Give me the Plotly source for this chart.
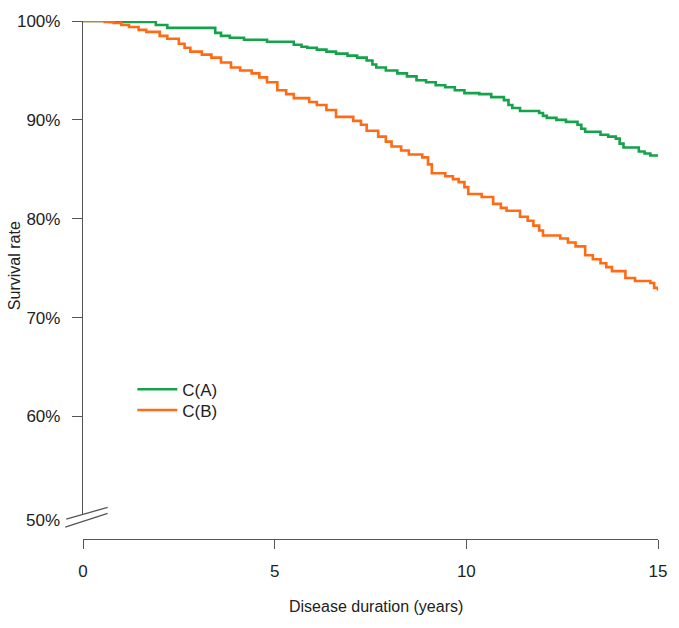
import plotly.graph_objects as go

# ---- data ----
green_t = [0, 0.7, 1.9, 2.2, 3.45, 3.6, 3.83, 4.2, 4.8, 5.5, 5.7, 5.85, 6.1, 6.35, 6.6, 6.9,
           7.15, 7.4, 7.55, 7.65, 7.9, 8.2, 8.45, 8.7, 8.95, 9.2, 9.45, 9.7, 9.95, 10.34,
           10.65, 10.98, 11.1, 11.2, 11.4, 11.9, 12.0, 12.1, 12.35, 12.6, 12.9, 13.0, 13.1,
           13.5, 13.7, 13.9, 14.0, 14.1, 14.5, 14.65, 14.8, 15.0]
green_s = [100, 99.9, 99.6, 99.3, 98.8, 98.5, 98.3, 98.1, 97.9, 97.6, 97.4, 97.3, 97.1, 96.9,
           96.7, 96.5, 96.3, 96.0, 95.6, 95.3, 95.0, 94.7, 94.4, 94.0, 93.8, 93.5, 93.3, 93.0,
           92.7, 92.6, 92.3, 92.0, 91.5, 91.2, 90.9, 90.7, 90.4, 90.2, 90.0, 89.8, 89.5, 89.1,
           88.8, 88.5, 88.3, 88.1, 87.6, 87.2, 86.8, 86.6, 86.4, 86.3]

orange_t = [0, 0.57, 0.8, 1.0, 1.2, 1.45, 1.65, 2.0, 2.2, 2.5, 2.65, 2.8, 3.1, 3.35, 3.6, 3.86,
            4.1, 4.4, 4.6, 4.8, 5.07, 5.3, 5.5, 5.9, 6.1, 6.35, 6.6, 7.05, 7.25, 7.4, 7.7, 7.9,
            8.05, 8.3, 8.5, 8.85, 9.0, 9.1, 9.45, 9.65, 9.8, 9.95, 10.05, 10.4, 10.7, 10.9,
            11.05, 11.4, 11.6, 11.75, 11.9, 12.0, 12.45, 12.65, 12.85, 13.1, 13.3, 13.5, 13.65,
            13.8, 14.15, 14.4, 14.8, 14.9, 15.0]
orange_s = [100, 99.9, 99.8, 99.6, 99.4, 99.1, 98.9, 98.5, 98.2, 97.7, 97.3, 96.9, 96.6, 96.3,
            95.8, 95.3, 95.0, 94.7, 94.3, 93.8, 93.0, 92.6, 92.2, 91.8, 91.5, 91.0, 90.3, 89.9,
            89.5, 88.9, 88.3, 87.8, 87.3, 86.9, 86.5, 86.2, 85.5, 84.6, 84.3, 84.0, 83.7, 83.2,
            82.5, 82.2, 81.5, 81.1, 80.8, 80.2, 79.8, 79.3, 78.8, 78.3, 78.0, 77.6, 77.2, 76.3,
            75.9, 75.5, 75.1, 74.7, 74.0, 73.7, 73.5, 73.0, 72.7]

series_names = ["C(A)", "C(B)"]
x_ticks = [0, 5, 10, 15]
y_ticks = [60, 70, 80, 90, 100]
y_ticklabels = ["60%", "70%", "80%", "90%", "100%"]

GREEN = "#14a34a"
ORANGE = "#ff6a14"
AXIS = "#555555"
TEXT = "#222222"
FONT = "Liberation Sans, Arial, sans-serif"

W, H = 679, 628
L, R, T, B = 83, 13, 15, 89
PW, PH = W - L - R, H - T - B


def px(xp):
    return (xp - L) / PW


def py(yp):
    return (H - B - yp) / PH


fig = go.Figure()
fig.add_trace(go.Scatter(x=green_t, y=green_s, mode="lines", name=series_names[0],
                         line=dict(color=GREEN, width=2.6, shape="hv"), cliponaxis=False,
                         legend="legend"))
fig.add_trace(go.Scatter(x=orange_t, y=orange_s, mode="lines", name=series_names[1],
                         line=dict(color=ORANGE, width=2.6, shape="hv"), cliponaxis=False,
                         legend="legend2"))

shapes = [
    dict(type="line", xref="paper", yref="paper", x0=px(66), y0=py(519), x1=px(108), y1=py(507),
         line=dict(color=AXIS, width=1.3)),
    dict(type="line", xref="paper", yref="paper", x0=px(65), y0=py(527), x1=px(108), y1=py(513),
         line=dict(color=AXIS, width=1.3)),
]

annotations = [
    dict(text="50%", xref="paper", yref="paper", x=px(62), y=py(520), xanchor="right",
         yanchor="middle", showarrow=False, font=dict(size=17, color=TEXT, family=FONT)),
    dict(text="Disease duration (years)", xref="paper", yref="paper", x=px(380), y=py(607),
         xanchor="center", yanchor="middle", showarrow=False,
         font=dict(size=16, color=TEXT, family=FONT)),
    dict(text="Survival rate", xref="paper", yref="paper", x=px(13), y=py(262),
         xanchor="center", yanchor="middle", textangle=-90, showarrow=False,
         font=dict(size=16, color=TEXT, family=FONT)),
]

legend_common = dict(xanchor="left", yanchor="middle", bgcolor="rgba(0,0,0,0)",
                     font=dict(size=17, family=FONT, color=TEXT), itemwidth=40)

fig.update_layout(
    width=W, height=H,
    margin=dict(l=L, r=R, t=T, b=B, pad=0),
    paper_bgcolor="white", plot_bgcolor="white",
    font=dict(family=FONT, size=17, color=TEXT),
    shapes=shapes,
    annotations=annotations,
    showlegend=True,
    legend=dict(x=px(133), y=py(388), **legend_common),
    legend2=dict(x=px(133), y=py(409), **legend_common),
    xaxis=dict(range=[0, 15], tickvals=x_ticks, ticktext=[str(v) for v in x_ticks],
               showgrid=False, zeroline=False, showline=True, linecolor=AXIS, linewidth=1.3,
               ticks="outside", ticklen=9, tickwidth=1.3, tickcolor=AXIS,
               anchor="free", position=0, ticklabelstandoff=7,
               tickfont=dict(size=17, family=FONT, color=TEXT)),
    yaxis=dict(range=[50, 100], domain=[py(515), 1], tickvals=y_ticks, ticktext=y_ticklabels,
               showgrid=False, zeroline=False, showline=True, linecolor=AXIS, linewidth=1.3,
               ticks="outside", ticklen=10, tickwidth=1.3, tickcolor=AXIS,
               ticklabelstandoff=8,
               tickfont=dict(size=17, family=FONT, color=TEXT)),
)

fig.write_html("out.html")
